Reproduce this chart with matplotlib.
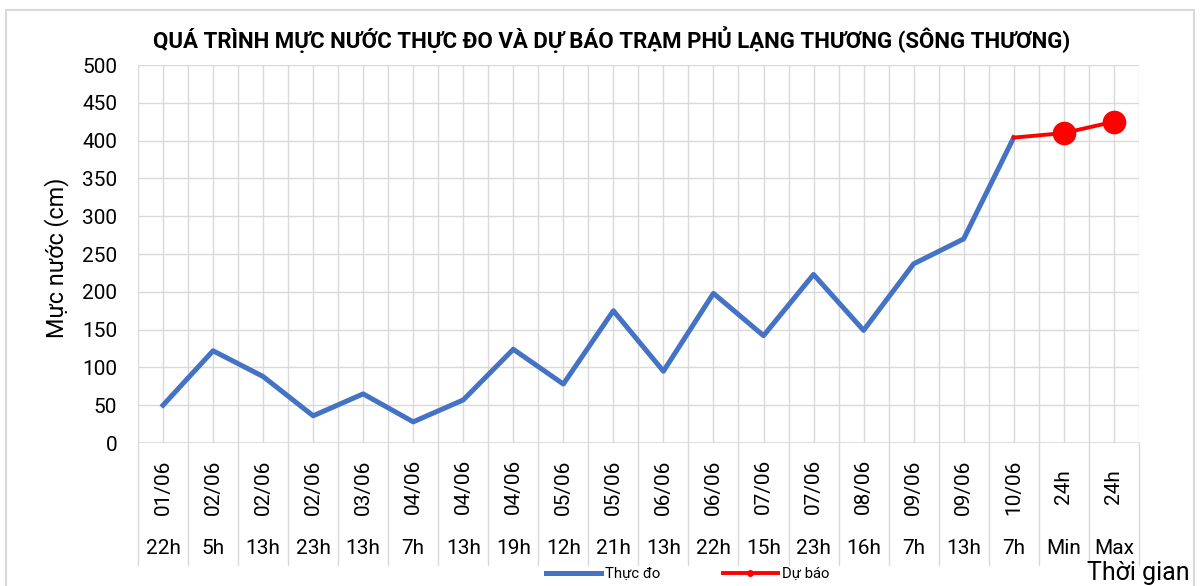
import numpy as np
import matplotlib.pyplot as plt
import matplotlib.transforms as mtransforms
from matplotlib.patches import Rectangle

plt.rcParams['font.family'] = ['Roboto', 'DejaVu Sans']

# Số liệu
ngay = ['01/06', '02/06', '02/06', '02/06', '03/06', '04/06', '04/06', '04/06', '05/06',
        '05/06', '06/06', '06/06', '07/06', '07/06', '08/06', '09/06', '09/06', '10/06',
        '24h', '24h']
gio = ['22h', '5h', '13h', '23h', '13h', '7h', '13h', '19h', '12h',
       '21h', '13h', '22h', '15h', '23h', '16h', '7h', '13h', '7h', 'Min', 'Max']
thuc_do = [50, 122, 88, 36, 65, 28, 57, 124, 78, 175, 95, 198, 142, 223, 149, 237, 270, 404,
           np.nan, np.nan]
du_bao = [np.nan] * 17 + [404, 410, 425]

n = len(ngay)
x = np.arange(n)

fig = plt.figure(figsize=(12, 5.86), dpi=100)
ax = fig.add_axes([0.115, 0.244, 0.834, 0.645])

ax.plot(x, thuc_do, color='#4472C4', lw=3.6, label='Thực đo', zorder=3)
ax.plot(x, du_bao, color='#FF0000', lw=2.8, marker='o', markersize=16,
        markevery=[n - 2, n - 1], label='Dự báo', zorder=4)

ax.set_xlim(-0.5, n - 0.5)
ax.set_ylim(0, 500)
ax.set_yticks(range(0, 501, 50))
ax.set_xticks(x)
ax.set_xticks(np.arange(-0.5, n, 1.0), minor=True)
ax.tick_params(axis='x', which='both', length=0, labelbottom=False)
ax.tick_params(axis='y', length=0, labelsize=15, pad=15)
ax.grid(which='both', color='#d9d9d9', lw=1)
ax.set_axisbelow(True)
for s in ax.spines.values():
    s.set_visible(False)
ax.axhline(0, color='#d9d9d9', lw=1.2, zorder=1)

# nhãn trục danh mục nhiều cấp
trans = mtransforms.blended_transform_factory(ax.transData, ax.transAxes)
for i in range(n):
    ax.text(i, -0.116, ngay[i], rotation=90, transform=trans, ha='center', va='center',
            fontsize=15)
    ax.text(i, -0.28, gio[i], transform=trans, ha='center', va='center', fontsize=15)
for b in np.arange(-0.5, n, 1.0):
    ax.plot([b, b], [0, -0.323], transform=trans, color='#d9d9d9', lw=1, clip_on=False)

ax.set_ylabel('Mực nước (cm)', fontsize=16.8)
ax.yaxis.set_label_coords(-0.069, 0.49)

fig.text(0.51, 0.932, 'QUÁ TRÌNH MỰC NƯỚC THỰC ĐO VÀ DỰ BÁO TRẠM PHỦ LẠNG THƯƠNG (SÔNG THƯƠNG)',
         ha='center', va='center', fontsize=16, fontweight='bold')
fig.text(0.906, 0.022, 'Thời gian', ha='left', va='center', fontsize=18)

h, l = ax.get_legend_handles_labels()
leg = fig.legend(h, l, loc='center', bbox_to_anchor=(0.573, 0.02), ncol=2, frameon=False,
                 fontsize=10.7, handlelength=3.7, handletextpad=0.3, columnspacing=4.2,
                 markerscale=0.25)

fig.patches.append(Rectangle((0.005, -0.01), 0.99, 0.993, transform=fig.transFigure,
                             fill=False, edgecolor='#d9d9d9', lw=1.5))

fig.savefig('out.png', dpi=100)
